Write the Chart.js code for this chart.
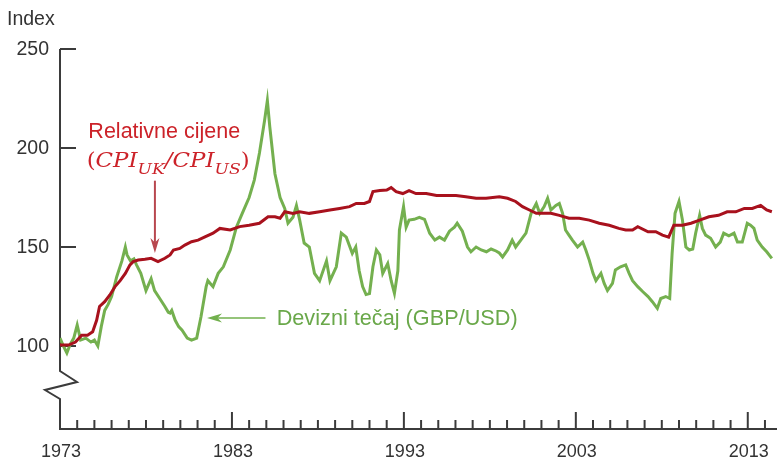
<!DOCTYPE html>
<html>
<head>
<meta charset="utf-8">
<script src="https://cdn.jsdelivr.net/npm/chart.js@4.4.1/dist/chart.umd.min.js"></script>
<style>
  html, body { margin: 0; padding: 0; background: #fff; }
  canvas { display: block; }
</style>
</head>
<body>
<canvas id="chart" width="777" height="463"></canvas>
<script>
// exchange rate GBP/USD, index 1973 = 100
const fxYears = [1973.0, 1973.2, 1973.4, 1973.6, 1973.8, 1974.0, 1974.2, 1974.5, 1974.8, 1975.0,
  1975.2, 1975.4, 1975.6, 1975.8, 1976.0, 1976.3, 1976.6, 1976.8, 1976.9, 1977.1,
  1977.3, 1977.45, 1977.7, 1978.0, 1978.3, 1978.5, 1978.8, 1979.1, 1979.3, 1979.4,
  1979.5, 1979.7, 1979.9, 1980.1, 1980.4, 1980.65, 1980.95, 1981.2, 1981.5, 1981.6,
  1981.9, 1982.2, 1982.5, 1982.9, 1983.26, 1983.6, 1984.0, 1984.3, 1984.6, 1984.9,
  1985.06, 1985.2, 1985.5, 1985.8, 1986.07, 1986.26, 1986.55, 1986.75, 1986.94, 1987.2,
  1987.5, 1987.8, 1988.1, 1988.5, 1988.7, 1989.07, 1989.36, 1989.65, 1990.0, 1990.2,
  1990.4, 1990.6, 1990.8, 1991.0, 1991.2, 1991.4, 1991.6, 1991.77, 1992.06, 1992.26,
  1992.45, 1992.65, 1992.74, 1992.98, 1993.13, 1993.3, 1993.6, 1993.9, 1994.2, 1994.5,
  1994.8, 1995.07, 1995.36, 1995.65, 1995.94, 1996.1, 1996.4, 1996.7, 1996.9, 1997.2,
  1997.5, 1997.8, 1998.07, 1998.36, 1998.55, 1998.74, 1999.03, 1999.3, 1999.5, 1999.8,
  2000.1, 2000.4, 2000.7, 2000.9, 2001.16, 2001.36, 2001.55, 2001.84, 2002.04, 2002.23,
  2002.4, 2002.6, 2002.8, 2003.1, 2003.4, 2003.58, 2003.78, 2004.0, 2004.17, 2004.46,
  2004.65, 2004.84, 2005.13, 2005.3, 2005.6, 2005.9, 2006.1, 2006.3, 2006.6, 2006.9,
  2007.2, 2007.45, 2007.74, 2007.94, 2008.23, 2008.46, 2008.6, 2008.77, 2009.0, 2009.2,
  2009.4, 2009.6, 2009.8, 2009.97, 2010.2, 2010.36, 2010.55, 2010.84, 2011.13, 2011.4,
  2011.6, 2011.9, 2012.2, 2012.4, 2012.68, 2012.97, 2013.16, 2013.36, 2013.55, 2013.84,
  2014.1, 2014.4];
const fxValues = [104, 100, 96.5, 101, 104, 110.6, 103, 104, 102, 103,
  100, 109.8, 118, 121, 125, 135, 143, 150, 146, 143,
  144, 141, 136.7, 128, 134, 128, 124, 120, 117, 116.6,
  118, 113, 109.8, 108, 104, 103, 104, 114.8, 130, 133,
  130, 136.7, 140, 148.5, 160, 167, 175, 183.8, 197.5, 214,
  224, 210.8, 187, 175, 169.5, 162, 165, 171, 163.6, 152,
  150, 136.7, 133, 143, 133, 140, 157, 155, 146.8, 150,
  138, 130, 126, 126.5, 140, 148.5, 146, 136.7, 141.7, 133,
  126.6, 138, 158.6, 170.4, 160, 163.6, 164, 165, 164, 157,
  153.5, 155, 153.5, 158, 160, 162, 158, 150, 147.6, 150,
  148.5, 147.6, 149, 148, 147, 145, 148.5, 153.5, 150, 153.5,
  157, 167, 172, 167, 170.4, 174.6, 168.7, 171, 172, 167,
  158.6, 156, 153.5, 150, 152.5, 148.5, 143.4, 136.7, 133, 136.7,
  131.6, 128, 131.6, 138.4, 140, 141, 136.7, 133, 130, 127.4,
  125, 122.4, 119, 124, 125, 124, 146.8, 167, 173, 163.6,
  150, 148.5, 149, 157, 166, 159.4, 156, 154.4, 150, 152.5,
  157, 155.7, 157, 152.5, 152.5, 162, 161, 159.4, 153.5, 150,
  147.6, 144.3];

// relative prices CPI UK / CPI US
const cpiYears = [1973.0, 1973.5, 1973.9, 1974.26, 1974.6, 1974.9, 1975.13, 1975.3, 1975.6, 1975.9,
  1976.2, 1976.5, 1976.8, 1977.07, 1977.26, 1977.55, 1977.94, 1978.3, 1978.7, 1979.1,
  1979.4, 1979.6, 1979.97, 1980.26, 1980.65, 1981.03, 1981.4, 1981.9, 1982.3, 1982.9,
  1983.45, 1984.0, 1984.6, 1985.1, 1985.5, 1985.8, 1986.07, 1986.55, 1986.94, 1987.5,
  1988.1, 1988.7, 1989.26, 1989.84, 1990.23, 1990.7, 1991.0, 1991.2, 1991.6, 1992.0,
  1992.26, 1992.55, 1992.94, 1993.3, 1993.7, 1994.3, 1994.9, 1995.45, 1996.03, 1996.6,
  1997.2, 1997.78, 1998.55, 1999.03, 1999.5, 1999.9, 2000.3, 2000.7, 2001.07, 2001.55,
  2002.04, 2002.6, 2003.2, 2003.78, 2004.36, 2004.94, 2005.5, 2005.9, 2006.3, 2006.6,
  2007.2, 2007.65, 2008.04, 2008.4, 2008.7, 2009.2, 2009.7, 2010.2, 2010.74, 2011.3,
  2011.8, 2012.3, 2012.8, 2013.26, 2013.75, 2014.1, 2014.4];
const cpiValues = [100.5, 100.5, 102, 105.5, 105.5, 107.2, 113, 120, 122.4, 125.8,
  130, 133, 136.7, 141, 142.6, 143.4, 143.8, 144.3, 142.6, 144.3,
  146, 148.5, 149.3, 151, 152.7, 153.5, 155, 157, 159.4, 158.6,
  160.3, 161, 162, 165.3, 165.3, 164.5, 167.8, 167, 167.8, 167,
  167.8, 168.7, 169.5, 170.4, 172, 172, 173, 178, 178.5, 178.8,
  180, 178, 177, 178.5, 177, 177, 176, 176, 176, 175.4,
  174.6, 174.6, 175.4, 174.6, 173, 170.4, 168.7, 167, 167, 167,
  166, 164.5, 164.5, 163.6, 162, 161, 159.4, 158.6, 158.6, 160.3,
  157.7, 157.7, 156, 155, 161, 161, 162, 163.6, 165.3, 166,
  167.8, 167.8, 169.5, 169.5, 171, 168.7, 167.8];

const yTicks = [100, 150, 200, 250];
const xLabels = [1973, 1983, 1993, 2003, 2013];
const firstYear = 1973;
const lastYear = 2014;

const axisColor = "#3b3b3b";
const textColor = "#333333";
const redText = "#cc2229";
const greenText = "#6aa84a";
const sans = '"Liberation Sans", Arial, sans-serif';

const toPoints = (xs, ys) => xs.map((v, i) => ({ x: v, y: ys[i] }));

// y axis, break mark, ticks and labels drawn under the lines
const axesPlugin = {
  id: "axes",
  beforeDatasetsDraw(chart) {
    const { ctx, chartArea: a, scales: { x, y } } = chart;
    const x0 = a.left;
    ctx.save();
    ctx.strokeStyle = axisColor;
    ctx.lineWidth = 2;
    ctx.lineJoin = "miter";

    ctx.beginPath();
    ctx.moveTo(x0, a.top);
    ctx.lineTo(x0, a.bottom - 58);
    ctx.lineTo(x0 + 17, a.bottom - 47);
    ctx.lineTo(x0 - 15, a.bottom - 39);
    ctx.lineTo(x0, a.bottom - 30);
    ctx.lineTo(x0, a.bottom);
    ctx.lineTo(a.right, a.bottom);
    ctx.stroke();

    ctx.fillStyle = textColor;
    ctx.font = "19.5px " + sans;
    ctx.textAlign = "right";
    ctx.textBaseline = "middle";
    yTicks.forEach((v) => {
      const py = y.getPixelForValue(v);
      ctx.beginPath();
      ctx.moveTo(x0, py);
      ctx.lineTo(x0 + 16, py);
      ctx.stroke();
      ctx.fillText(String(v), x0 - 11, py + 1);
    });

    for (let yr = firstYear + 1; yr <= lastYear; yr++) {
      const px = x.getPixelForValue(yr);
      const h = xLabels.includes(yr) ? 17 : 9;
      ctx.beginPath();
      ctx.moveTo(px, a.bottom);
      ctx.lineTo(px, a.bottom - h);
      ctx.stroke();
    }
    ctx.font = "18px " + sans;
    ctx.textAlign = "center";
    xLabels.forEach((yr) => {
      ctx.fillText(String(yr), x.getPixelForValue(yr) + 1, a.bottom + 23);
    });

    ctx.textAlign = "left";
    ctx.textBaseline = "alphabetic";
    ctx.font = "19.5px " + sans;
    ctx.fillText("Index", 7, 25);
    ctx.restore();
  }
};

function arrowHead(ctx, tx, ty, dx, dy, len, half) {
  // tip at (tx,ty), pointing along (dx,dy)
  const nx = -dy, ny = dx;
  ctx.beginPath();
  ctx.moveTo(tx, ty);
  ctx.lineTo(tx - dx * len + nx * half, ty - dy * len + ny * half);
  ctx.lineTo(tx - dx * len * 0.7, ty - dy * len * 0.7);
  ctx.lineTo(tx - dx * len - nx * half, ty - dy * len - ny * half);
  ctx.closePath();
  ctx.fill();
}

// labels and arrows, placed in data units
const notes = {
  relLabel: { x: 1974.65, y: 205 },
  formula: { x: 1974.55, y: 190.2, width: 163 },
  relArrow: { x: 1978.52, from: 183.5, to: 147 },
  fxLabel: { x: 1985.6, y: 114.1 },
  fxArrow: { y: 114.1, from: 1984.95, to: 1981.55 }
};

const notesPlugin = {
  id: "notes",
  afterDatasetsDraw(chart) {
    const { ctx, scales: { x, y } } = chart;
    ctx.save();

    // relative prices
    ctx.fillStyle = redText;
    ctx.font = "21.5px " + sans;
    ctx.textBaseline = "alphabetic";
    ctx.textAlign = "left";
    ctx.fillText("Relativne cijene", x.getPixelForValue(notes.relLabel.x), y.getPixelForValue(notes.relLabel.y));

    const parts = [
      { t: "(", f: '20px "DejaVu Serif"', dy: 0 },
      { t: "CPI", f: 'italic 20px "DejaVu Serif"', dy: 0 },
      { t: "UK", f: 'italic 15px "DejaVu Serif"', dy: 7 },
      { t: "/", f: 'italic 20px "DejaVu Serif"', dy: 0 },
      { t: "CPI", f: 'italic 20px "DejaVu Serif"', dy: 0 },
      { t: "US", f: 'italic 15px "DejaVu Serif"', dy: 7 },
      { t: ")", f: '20px "DejaVu Serif"', dy: 0 }
    ];
    let total = 0;
    parts.forEach((p) => { ctx.font = p.f; p.w = ctx.measureText(p.t).width; total += p.w; });
    const fx = x.getPixelForValue(notes.formula.x);
    const fy = y.getPixelForValue(notes.formula.y);
    ctx.save();
    ctx.translate(fx, fy);
    ctx.scale(notes.formula.width / total, 1);
    let cx = 0;
    parts.forEach((p) => {
      ctx.font = p.f;
      ctx.fillText(p.t, cx, p.dy);
      cx += p.w;
    });
    ctx.restore();

    const ax = x.getPixelForValue(notes.relArrow.x);
    const ay0 = y.getPixelForValue(notes.relArrow.from);
    const ay1 = y.getPixelForValue(notes.relArrow.to);
    ctx.strokeStyle = "#b8474f";
    ctx.fillStyle = "#b8474f";
    ctx.lineWidth = 2;
    ctx.beginPath();
    ctx.moveTo(ax, ay0);
    ctx.lineTo(ax, ay1 - 10);
    ctx.stroke();
    arrowHead(ctx, ax, ay1, 0, 1, 15, 4.5);

    // exchange rate
    ctx.fillStyle = greenText;
    ctx.font = "21.7px " + sans;
    ctx.textBaseline = "middle";
    ctx.fillText("Devizni tečaj (GBP/USD)", x.getPixelForValue(notes.fxLabel.x), y.getPixelForValue(notes.fxLabel.y) + 1);

    const gy = y.getPixelForValue(notes.fxArrow.y);
    const gx0 = x.getPixelForValue(notes.fxArrow.from);
    const gx1 = x.getPixelForValue(notes.fxArrow.to);
    ctx.strokeStyle = "#72b04e";
    ctx.fillStyle = "#72b04e";
    ctx.lineWidth = 1.5;
    ctx.beginPath();
    ctx.moveTo(gx0, gy);
    ctx.lineTo(gx1 + 10, gy);
    ctx.stroke();
    arrowHead(ctx, gx1, gy, -1, 0, 15, 4.5);

    ctx.restore();
  }
};

new Chart(document.getElementById("chart").getContext("2d"), {
  type: "line",
  data: {
    datasets: [
      {
        label: "Relativne cijene",
        data: toPoints(cpiYears, cpiValues),
        borderColor: "#a8111d",
        borderWidth: 3,
        pointRadius: 0,
        tension: 0,
        fill: false
      },
      {
        label: "Devizni tečaj (GBP/USD)",
        data: toPoints(fxYears, fxValues),
        borderColor: "#74b04f",
        borderWidth: 3,
        pointRadius: 0,
        tension: 0,
        fill: false
      }
    ]
  },
  options: {
    responsive: false,
    animation: false,
    layout: { padding: { top: 49, left: 60, right: 0, bottom: 34 } },
    scales: {
      x: { type: "linear", min: firstYear, max: 2014.7, display: false },
      y: { type: "linear", min: 58.1, max: 250, display: false }
    },
    plugins: {
      legend: { display: false },
      tooltip: { enabled: false }
    }
  },
  plugins: [axesPlugin, notesPlugin]
});
</script>
</body>
</html>
